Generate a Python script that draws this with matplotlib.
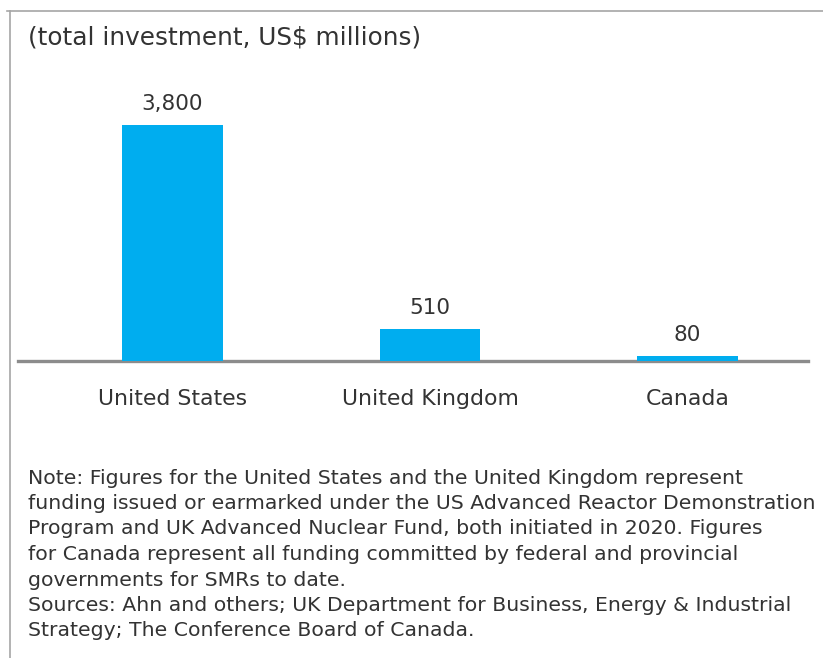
import matplotlib
matplotlib.use("Agg")
import matplotlib.pyplot as plt
from matplotlib.lines import Line2D

plt.rcParams['font.family'] = ['DejaVu Sans']

countries = ["United States", "United Kingdom", "Canada"]
investment = [3800, 510, 80]
value_labels = ["3,800", "510", "80"]

title = "(total investment, US$ millions)"
note_lines = [
    "Note: Figures for the United States and the United Kingdom represent",
    "funding issued or earmarked under the US Advanced Reactor Demonstration",
    "Program and UK Advanced Nuclear Fund, both initiated in 2020. Figures",
    "for Canada represent all funding committed by federal and provincial",
    "governments for SMRs to date.",
    "Sources: Ahn and others; UK Department for Business, Energy & Industrial",
    "Strategy; The Conference Board of Canada.",
]

W, H = 823, 658
BAR_COLOR = "#00adef"
TEXT_COLOR = "#333333"

fig = plt.figure(figsize=(W / 100, H / 100), dpi=100)
fig.patch.set_facecolor("white")

# frame lines along the top and left edge
fig.add_artist(Line2D([7 / W, 1.0], [1 - 11 / H, 1 - 11 / H], color="#a6a6a6", lw=1.2))
fig.add_artist(Line2D([10 / W, 10 / W], [0, 1 - 11 / H], color="#a6a6a6", lw=1.2))

ax = fig.add_axes([18 / W, (H - 361) / H, 790 / W, 281 / H])
x = list(range(len(countries)))
bars = ax.bar(x, investment, width=0.392, color=BAR_COLOR, zorder=3)
ax.set_xlim(-0.6, 2.468)
ax.set_ylim(0, 3800 * 281 / 236)

for spine in ("top", "right", "left"):
    ax.spines[spine].set_visible(False)
ax.spines["bottom"].set_color("#8c8c8c")
ax.spines["bottom"].set_linewidth(2.4)
ax.spines["bottom"].set_zorder(2)
ax.set_yticks([])
ax.set_xticks(x)
ax.set_xticklabels(countries, fontsize=15.8, color=TEXT_COLOR)
ax.tick_params(axis="x", length=0, pad=20)

for rect, lab in zip(bars, value_labels):
    ax.annotate(lab, (rect.get_x() + rect.get_width() / 2, rect.get_height()),
                xytext=(0, 15), textcoords="offset points",
                ha="center", va="center", fontsize=15.5, color=TEXT_COLOR)

fig.text(28 / W, 1 - 38 / H, title, ha="left", va="center",
         fontsize=17.8, color=TEXT_COLOR)

for i, line in enumerate(note_lines):
    y = 478 + 25.5 * i
    fig.text(28 / W, 1 - y / H, line, ha="left", va="center",
             fontsize=14.7, color=TEXT_COLOR)

fig.savefig("out.png", dpi=100, facecolor="white")
